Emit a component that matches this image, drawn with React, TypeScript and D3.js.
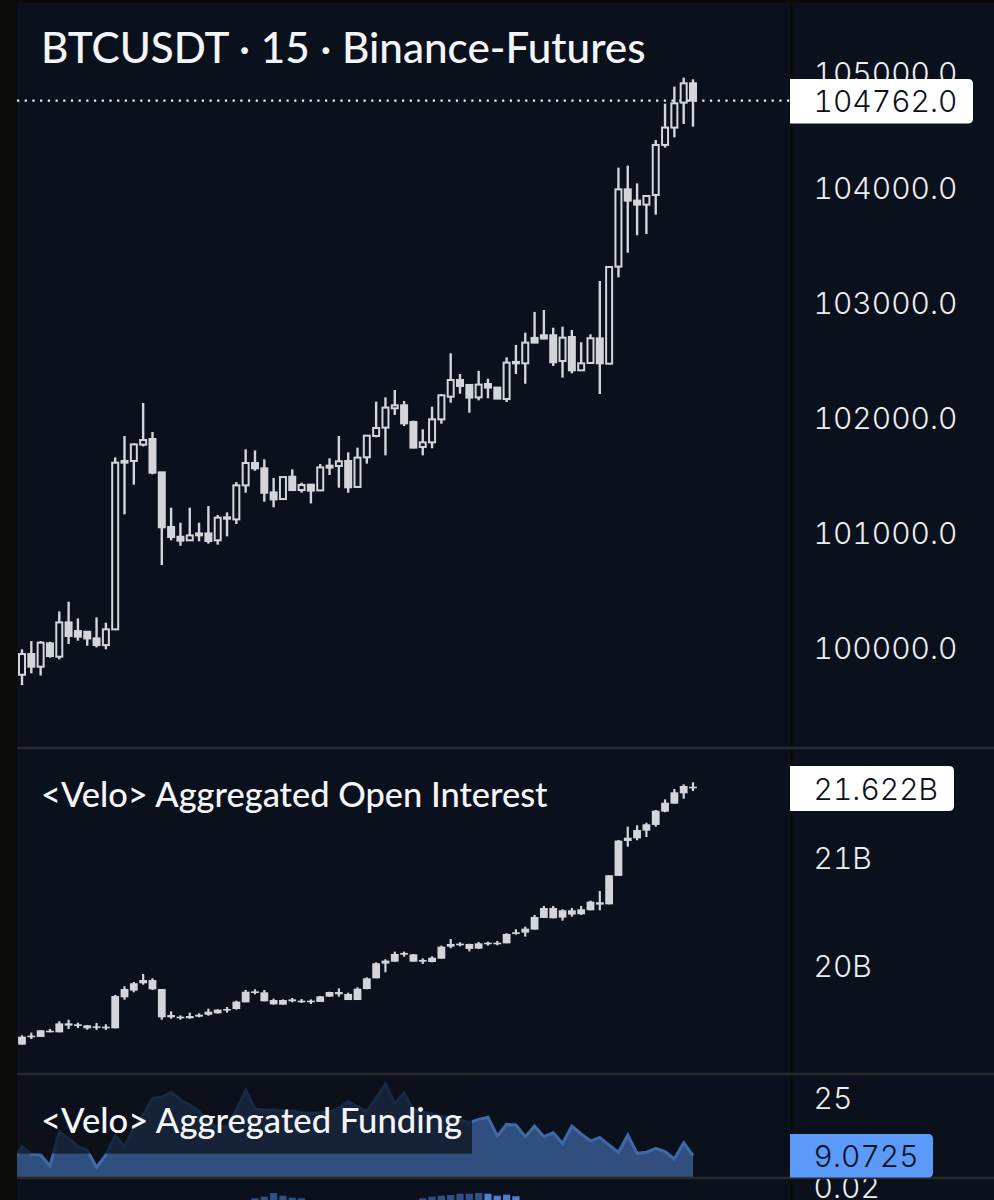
import React from "react";
import * as d3 from "d3";

const W = 994;
const H = 1200;
const BG = "#0b111c";
const EDGE = "#0a0a09";
const CANDLE = "#d3d5da";

const priceOpen = [99770,99950,99840,100043,99927,100225,100150,100144,100086,100028,100165,101614,101629,101771,101820,101530,101055,100970,100939,100982,100999,100939,101127,101121,101417,101611,101565,101356,101298,101492,101376,101423,101373,101571,101585,101629,101403,101661,101846,101919,102087,102113,101968,101751,101791,101991,102188,102333,102290,102182,102298,102267,102168,102478,102478,102699,102722,102722,102498,102707,102417,102481,102695,102475,103319,103991,103893,103858,103942,104377,104528,104745,104913];
const priceHigh = [99991,100063,100063,100057,100321,100405,100260,100144,100269,100223,101660,101846,101782,102133,101881,101530,101223,101092,101223,101092,101237,101159,101182,101446,101730,101721,101643,101481,101492,101556,101440,101423,101602,101652,101846,101704,101745,101855,102145,102182,102246,102151,101980,101904,102101,102211,102565,102385,102290,102412,102345,102267,102530,102638,102745,102925,102942,102788,102797,102768,102661,102730,103194,103319,104180,104197,104043,103936,104420,104736,104884,104962,104948];
const priceLow = [99680,99782,99764,99918,99904,100037,100066,100022,100008,99991,100159,101165,101423,101756,101513,100724,100939,100892,100936,100930,100910,100901,100973,101081,101353,101544,101275,101226,101295,101376,101353,101260,101371,101507,101397,101353,101397,101606,101835,101678,102029,101933,101739,101678,101739,101953,102136,102214,102049,102156,102174,102171,102142,102385,102301,102658,102690,102455,102354,102391,102414,102478,102211,102469,103226,103440,103591,103603,103771,104354,104443,104559,104536];
const priceClose = [99950,99840,100049,99933,100225,100107,100101,100086,100028,100165,101614,101629,101773,101811,101527,101052,100968,100936,100982,100999,100933,101136,101139,101417,101611,101565,101353,101295,101489,101376,101420,101371,101573,101588,101626,101400,101658,101849,101916,102093,102113,101956,101745,101791,101991,102200,102333,102281,102180,102293,102267,102171,102484,102490,102658,102658,102693,102487,102701,102417,102478,102696,102478,103316,103991,103893,103858,103933,104377,104528,104739,104913,104762];

const oiOpen = [19.272,19.343,19.343,19.389,19.386,19.448,19.445,19.423,19.429,19.426,19.423,19.710,19.772,19.840,19.784,19.525,19.525,19.516,19.516,19.531,19.549,19.562,19.590,19.602,19.664,19.753,19.673,19.645,19.642,19.673,19.670,19.667,19.667,19.716,19.738,19.685,19.685,19.787,19.886,20.022,20.040,20.105,20.040,20.040,20.037,20.068,20.179,20.192,20.158,20.161,20.201,20.204,20.210,20.297,20.309,20.337,20.445,20.442,20.448,20.476,20.479,20.516,20.568,20.571,20.834,21.158,21.182,21.253,21.306,21.429,21.503,21.599,21.648];
const oiHigh = [19.358,19.383,19.405,19.417,19.488,19.503,19.475,19.454,19.472,19.460,19.732,19.812,19.852,19.926,19.886,19.787,19.580,19.543,19.568,19.562,19.605,19.599,19.620,19.679,19.778,19.784,19.778,19.698,19.691,19.704,19.695,19.691,19.722,19.762,19.793,19.753,19.803,19.895,20.034,20.062,20.133,20.133,20.111,20.071,20.090,20.189,20.250,20.219,20.207,20.222,20.226,20.232,20.303,20.340,20.364,20.472,20.556,20.556,20.525,20.537,20.556,20.605,20.695,20.840,21.167,21.290,21.303,21.327,21.445,21.543,21.639,21.682,21.701];
const oiLow = [19.272,19.324,19.343,19.386,19.386,19.417,19.426,19.411,19.408,19.408,19.423,19.688,19.756,19.827,19.778,19.503,19.512,19.503,19.512,19.525,19.540,19.559,19.568,19.596,19.664,19.738,19.673,19.642,19.642,19.664,19.658,19.648,19.667,19.716,19.716,19.685,19.685,19.784,19.886,19.942,20.040,20.087,20.040,20.019,20.034,20.068,20.164,20.182,20.136,20.158,20.189,20.192,20.210,20.290,20.272,20.337,20.445,20.442,20.420,20.457,20.472,20.516,20.516,20.571,20.834,21.105,21.164,21.194,21.290,21.423,21.503,21.549,21.620];
const oiClose = [19.346,19.355,19.405,19.401,19.469,19.469,19.460,19.451,19.441,19.438,19.722,19.787,19.840,19.870,19.870,19.787,19.546,19.531,19.537,19.549,19.577,19.596,19.602,19.670,19.762,19.765,19.756,19.685,19.685,19.691,19.679,19.679,19.719,19.759,19.759,19.741,19.790,19.886,20.025,20.050,20.111,20.121,20.108,20.056,20.077,20.179,20.204,20.207,20.204,20.210,20.216,20.216,20.297,20.312,20.346,20.454,20.537,20.537,20.516,20.516,20.525,20.596,20.590,20.840,21.161,21.188,21.259,21.312,21.438,21.512,21.608,21.667,21.660];

// first value belongs to the candle just off the left edge
const funding = [7.43,11.55,9.54,9.26,6.24,15.67,13.84,11.55,10.64,5.87,9.26,14.48,11.55,16.59,20.25,24.83,25.1,26.48,24.37,23,21.17,17.96,17.04,17.04,21.62,27.12,21.81,21.62,21.62,21.35,21.35,20.89,20.71,20.89,21.07,22.17,23.91,22.54,21.16,24.83,28.76,23.45,26.2,21.62,21.07,20.52,19.97,19.42,18.87,18.23,19.06,19.61,14.48,17.68,17.5,14.3,17.22,14.3,15.39,12.46,17.22,15.03,13.1,14.11,12,9.99,14.75,9.72,9.99,11.09,10.17,8.16,12.65,9.07];

// histogram in the cut-off pane at the bottom
const lowerIdx = [25,26,27,28,29,30,43,44,45,46,47,48,49,50,51,52,53];
const lowerVal = [0.01623,0.01677,0.018,0.0171,0.01643,0.01623,0.01623,0.01677,0.0171,0.01733,0.01777,0.01777,0.018,0.01777,0.0171,0.01743,0.0169];

const priceTicks = [100000,101000,102000,103000,104000,105000];
const oiTicks = [20,21];
const fundingTicks = [25];
const lowerTicks = [0.02];

const LAST_PRICE = 104762;
const LAST_OI = 21.622;
const LAST_FUNDING = 9.0725;

const x = d3.scaleLinear().domain([0, 72]).range([22, 693]);
const yPrice = d3.scaleLinear().domain([100000, 105000]).range([648.3, 73.3]);
const yOi = d3.scaleLinear().domain([20, 21]).range([966, 858]);
const yFunding = d3.scaleLinear().domain([25, LAST_FUNDING]).range([1097.7, 1155.7]);
const yLower = d3.scaleLinear().domain([0.02, 0.01]).range([1187, 1217]);

const AXIS_FONT = "Inter, sans-serif";
const TITLE_FONT = "Lato, sans-serif";
const NUM_STYLE = { fontVariantNumeric: "tabular-nums" };

const fundingLine = d3.line<number>().x((_, i) => x(i - 1)).y((d) => yFunding(d));
const fundingArea = d3.area<number>().x((_, i) => x(i - 1)).y0(1178).y1((d) => yFunding(d));

function Tag({ top, bottom, right, fill, text, textFill = "#0b111c" }: any) {
  const r = 5;
  const d = `M790,${top}H${right - r}Q${right},${top} ${right},${top + r}V${bottom - r}Q${right},${bottom} ${right - r},${bottom}H790Z`;
  return (
    <g>
      <path d={d} fill={fill} />
      <text x={813.5} y={(top + bottom) / 2 + 11} fontFamily={AXIS_FONT} fontSize={30} fontWeight={300} fill={textFill} style={NUM_STYLE}>
        {text}
      </text>
    </g>
  );
}

function AxisLabel({ y, text }: { y: number; text: string }) {
  return (
    <text x={813.5} y={y + 11} fontFamily={AXIS_FONT} fontSize={30} fontWeight={300} fill="#eceef1" style={NUM_STYLE}>
      {text}
    </text>
  );
}

export default function App() {
  return (
    <svg width={W} height={H} style={{ position: "absolute", left: 0, top: 0 }}>
      <defs>
        <clipPath id="plot">
          <rect x={17} y={3} width={W - 17} height={H - 3} />
        </clipPath>
        <clipPath id="lowerPane">
          <rect x={17} y={1179} width={W - 17} height={21} />
        </clipPath>
      </defs>

      <rect width={W} height={H} fill={EDGE} />
      <rect x={17} y={3} width={W - 17} height={H - 3} fill={BG} />

      <g clipPath="url(#plot)">
        {/* funding pane */}
        <path d={fundingArea(funding) ?? ""} fill="#304f7e" />
        <path d={fundingLine(funding) ?? ""} fill="none" stroke="#3f6aa8" strokeWidth={3} />
        <rect x={17} y={1076} width={455} height={77.6} fill={BG} opacity={0.72} />

        {/* lower pane */}
        <g clipPath="url(#lowerPane)">
          {lowerIdx.map((idx, i) => (
            <rect
              key={idx}
              x={x(idx) - 3.6}
              y={yLower(lowerVal[i])}
              width={7.2}
              height={30}
              fill={idx >= 50 ? "#4f80cf" : "#2f5088"}
            />
          ))}
          {lowerTicks.map((t) => (
            <AxisLabel key={t} y={yLower(t)} text={t.toFixed(2)} />
          ))}
        </g>

        {/* last price */}
        <line x1={17} x2={790} y1={yPrice(LAST_PRICE)} y2={yPrice(LAST_PRICE)} stroke="#eef0f3" strokeWidth={2.2} strokeDasharray="2.2 5.5" />

        {/* price candles */}
        {priceClose.map((c, i) => {
          const o = priceOpen[i];
          const top = yPrice(Math.max(o, c));
          const bot = yPrice(Math.min(o, c));
          const up = c >= o;
          return (
            <g key={i}>
              <line x1={x(i)} x2={x(i)} y1={yPrice(priceHigh[i])} y2={yPrice(priceLow[i])} stroke={CANDLE} strokeWidth={2.4} />
              <rect
                x={x(i) - 3}
                y={top}
                width={6}
                height={Math.max(bot - top, 0.8)}
                fill={up ? BG : CANDLE}
                stroke={CANDLE}
                strokeWidth={2}
              />
            </g>
          );
        })}

        {/* open interest candles */}
        {oiClose.map((c, i) => {
          const top = yOi(Math.max(oiOpen[i], c));
          const bot = yOi(Math.min(oiOpen[i], c));
          return (
            <g key={i}>
              <line x1={x(i)} x2={x(i)} y1={yOi(oiHigh[i])} y2={yOi(oiLow[i])} stroke={CANDLE} strokeWidth={2.2} />
              <rect x={x(i) - 3.9} y={top} width={7.8} height={Math.max(bot - top, 1.6)} fill={CANDLE} />
            </g>
          );
        })}
      </g>

      {/* pane separators and axis edge */}
      <line x1={791.5} x2={791.5} y1={3} y2={H} stroke={EDGE} strokeWidth={2} />
      {[748, 1074, 1178].map((yy) => (
        <line key={yy} x1={17} x2={W} y1={yy} y2={yy} stroke="#28292c" strokeWidth={2.4} />
      ))}

      {/* titles */}
      <text x={41} y={63} fontFamily={TITLE_FONT} fontSize={42.2} fontWeight={500} fill="#f4f5f7">
        BTCUSDT · 15 · Binance-Futures
      </text>
      <text x={41} y={807} fontFamily={TITLE_FONT} fontSize={34.4} fontWeight={500} fill="#f4f5f7">
        {"<Velo> Aggregated Open Interest"}
      </text>
      <text x={41} y={1133} fontFamily={TITLE_FONT} fontSize={34.6} fontWeight={500} fill="#f4f5f7">
        {"<Velo> Aggregated Funding"}
      </text>

      {/* axes */}
      {priceTicks.map((t) => (
        <AxisLabel key={t} y={yPrice(t)} text={t.toFixed(1)} />
      ))}
      {oiTicks.map((t) => (
        <AxisLabel key={t} y={yOi(t)} text={`${t}B`} />
      ))}
      {fundingTicks.map((t) => (
        <AxisLabel key={t} y={yFunding(t)} text={String(t)} />
      ))}

      <Tag top={79} bottom={123.5} right={973} fill="#ffffff" text={LAST_PRICE.toFixed(1)} />
      <Tag top={766} bottom={811} right={954} fill="#ffffff" text={`${LAST_OI}B`} />
      <Tag top={1134} bottom={1177.5} right={933} fill="#5b9af8" text={String(LAST_FUNDING)} />
    </svg>
  );
}
